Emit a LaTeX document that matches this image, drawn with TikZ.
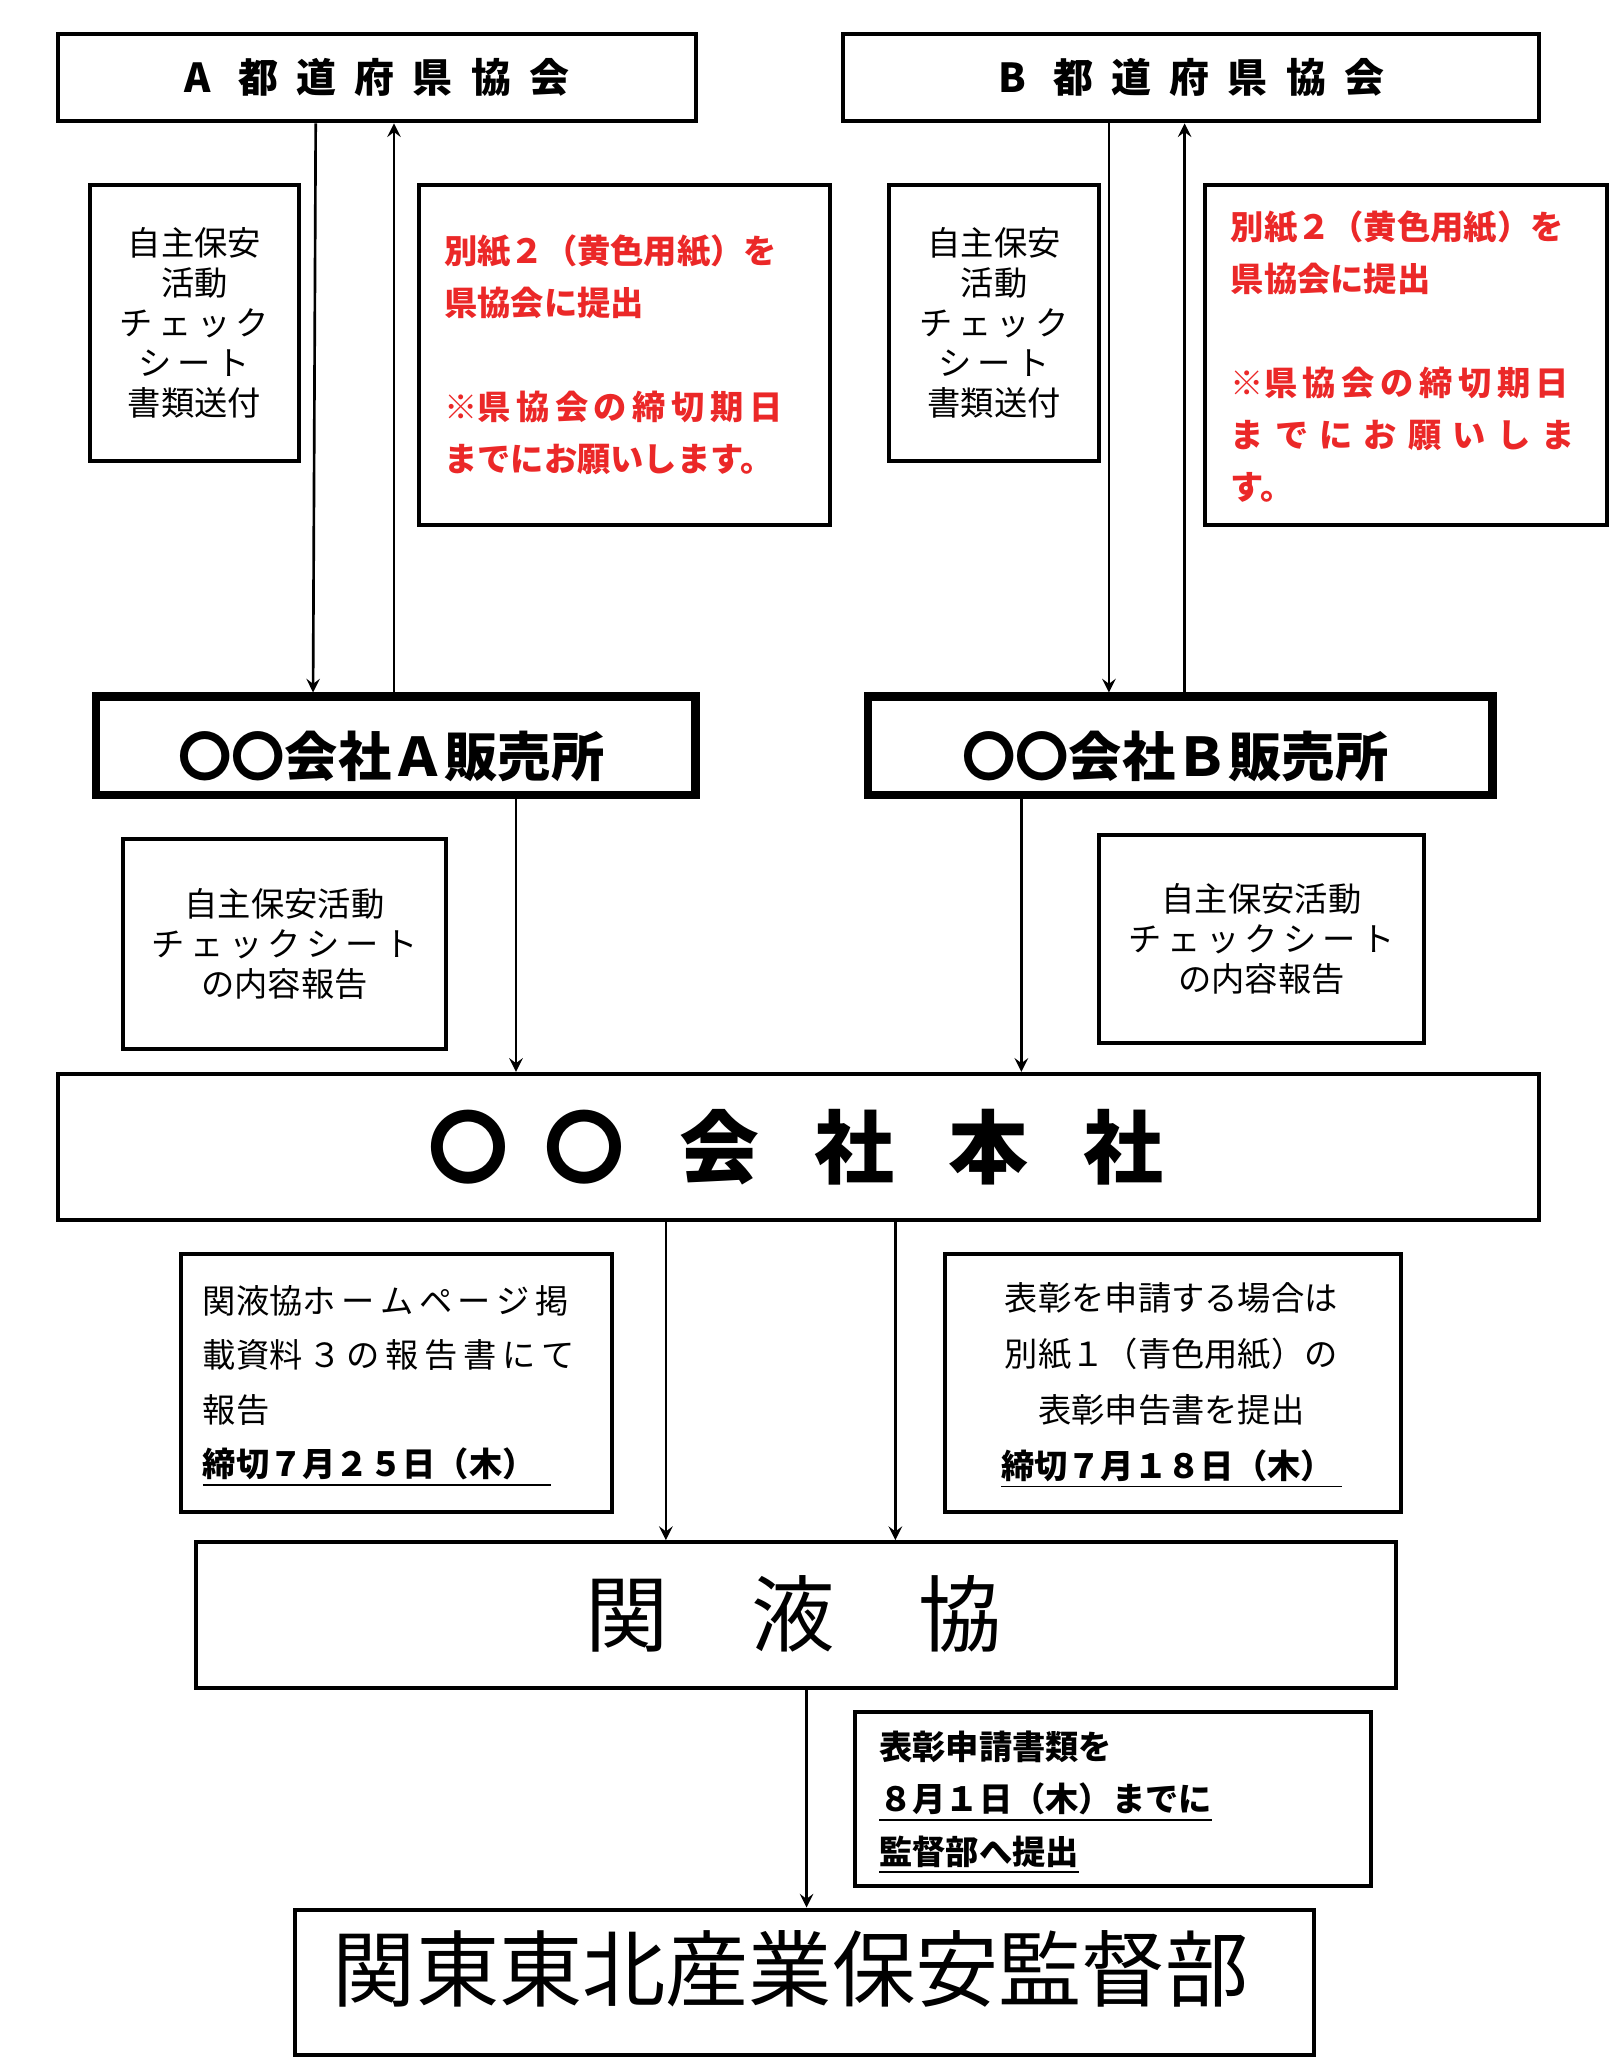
\documentclass[tikz,border=0pt]{standalone}
\usepackage{fontspec}
\setmainfont{Noto Sans CJK JP}
\usetikzlibrary{calc}
\definecolor{kaneki@red}{RGB}{235,40,40}

\tikzset{
  plainbox/.style={draw, line width=1.2pt, inner sep=0pt},
  thickbox/.style={draw, line width=2.6pt, inner sep=0pt},
  flowarrow/.style={-stealth, line width=0.8pt},
}

\begin{document}
\begin{tikzpicture}[x=0.014cm, y=-0.014cm]
\useasboundingbox (0,0) rectangle (1220,1559);

% prefectural associations
\node[plainbox, minimum width=481*0.014cm, minimum height=66*0.014cm, anchor=north west]
  (assocA) at (42,24) {\fontsize{12}{14}\selectfont\bfseries A\ \ \ 都\ \ 道\ \ 府\ \ 県\ \ 協\ \ 会};
\node[plainbox, minimum width=525*0.014cm, minimum height=66*0.014cm, anchor=north west]
  (assocB) at (634,24) {\fontsize{12}{14}\selectfont\bfseries B\ \ \ 都\ \ 道\ \ 府\ \ 県\ \ 協\ \ 会};

% check sheets
\node[plainbox, minimum width=158*0.014cm, minimum height=208*0.014cm, anchor=north west, align=center]
  (checkA) at (66,138) {\fontsize{10}{15.5}\selectfont 自主保安\\活動\\チ\,ェ\,ッ\,ク\\シ\,ー\,ト\\書類送付};
\node[plainbox, minimum width=158*0.014cm, minimum height=208*0.014cm, anchor=north west, align=center]
  (checkB) at (669,138) {\fontsize{10}{15.5}\selectfont 自主保安\\活動\\チ\,ェ\,ッ\,ク\\シ\,ー\,ト\\書類送付};

% submission notes
\node[plainbox, minimum width=310*0.014cm, minimum height=256*0.014cm, anchor=north west]
  (noteA) at (314,138) {};
\node[anchor=north west, align=left, text=kaneki@red, font=\fontsize{10}{15.6}\selectfont\bfseries]
  at (326,168) {別紙２（黄色用紙）を\\県協会に提出\\[15.6pt]※県\,協\,会\,の\,締\,切\,期\,日\\までにお願いします。};
\node[plainbox, minimum width=303*0.014cm, minimum height=256*0.014cm, anchor=north west]
  (noteB) at (907,138) {};
\node[anchor=north west, align=left, text=kaneki@red, font=\fontsize{10}{15.6}\selectfont\bfseries]
  at (919,150) {別紙２（黄色用紙）を\\県協会に提出\\[15.6pt]※県\,協\,会\,の\,締\,切\,期\,日\\ま\,\,で\,\,に\,\,お\,\,願\,\,い\,\,し\,\,ま\\す。};

% sales offices
\node[thickbox, minimum width=452*0.014cm, minimum height=74*0.014cm, anchor=north west]
  (salesA) at (69,522) {};
\node[font=\fontsize{16}{18}\selectfont\bfseries] at (295,570) {〇〇会社Ａ販売所};
\node[thickbox, minimum width=471*0.014cm, minimum height=74*0.014cm, anchor=north west]
  (salesB) at (651,522) {};
\node[font=\fontsize{16}{18}\selectfont\bfseries] at (886,570) {〇〇会社Ｂ販売所};

% content reports
\node[plainbox, minimum width=244*0.014cm, minimum height=158*0.014cm, anchor=north west, align=center]
  (reportA) at (91,631) {\fontsize{10}{17.5}\selectfont 自主保安活動\\チ\,ェ\,ッ\,ク\,シ\,ー\,ト\\の内容報告};
\node[plainbox, minimum width=245*0.014cm, minimum height=157*0.014cm, anchor=north west, align=center]
  (reportB) at (827,628) {\fontsize{10}{17.5}\selectfont 自主保安活動\\チ\,ェ\,ッ\,ク\,シ\,ー\,ト\\の内容報告};

% head office
\node[plainbox, minimum width=1117*0.014cm, minimum height=110*0.014cm, anchor=north west]
  (hq) at (42,808) {};
\node[font=\fontsize{24}{26}\selectfont\bfseries] at (600,865) {〇\ \ 〇\ \ \ 会\ \ \ 社\ \ \ 本\ \ \ 社};

% deadline notes
\node[plainbox, minimum width=325*0.014cm, minimum height=194*0.014cm, anchor=north west]
  (deadA) at (135,944) {};
\node[anchor=north west, align=left, font=\fontsize{10}{16.4}\selectfont] at (144,960)
  {関液協ホ\,ー\,ム\,ペ\,ー\,ジ\,掲\\載資料\,３\,の\,報\,告\,書\,に\,て\\報告\\\bfseries\underline{締切７月２５日（木）\ \ }};
\node[plainbox, minimum width=344*0.014cm, minimum height=194*0.014cm, anchor=north west]
  (deadB) at (711,944) {};
\node[anchor=north, align=center, font=\fontsize{10}{16.8}\selectfont] at (883,958)
  {表彰を申請する場合は\\別紙１（青色用紙）の\\表彰申告書を提出\\\bfseries\underline{締切７月１８日（木）\ }};

% Kanto LPG association
\node[plainbox, minimum width=905*0.014cm, minimum height=110*0.014cm, anchor=north west]
  (kaneki) at (146,1161) {};
\node[font=\fontsize{25}{27}\selectfont] at (598,1217) {関\quad 液\quad 協};

% final submission note
\node[plainbox, minimum width=389*0.014cm, minimum height=131*0.014cm, anchor=north west]
  (submit) at (643,1289) {};
\node[anchor=north west, align=left, font=\fontsize{10}{15.7}\selectfont\bfseries] at (654,1296)
  {表彰申請書類を\\\underline{８月１日（木）までに}\\\underline{監督部へ提出}};

% supervision department
\node[plainbox, minimum width=768*0.014cm, minimum height=110*0.014cm, anchor=north west]
  (dept) at (221,1438) {};
\node[font=\fontsize{25}{27}\selectfont] at (596,1484) {関東東北産業保安監督部};

% connectors
\draw[flowarrow] (assocA.south -| 238,0) -- (salesA.north -| 236,0);
\draw[flowarrow] (salesA.north -| 297,0) -- (assocA.south -| 297,0);
\draw[flowarrow] (assocB.south -| 836,0) -- (salesB.north -| 836,0);
\draw[flowarrow] (salesB.north -| 893,0) -- (assocB.south -| 893,0);
\draw[flowarrow] (salesA.south -| 389,0) -- (hq.north -| 389,0);
\draw[flowarrow] (salesB.south -| 770,0) -- (hq.north -| 770,0);
\draw[flowarrow] (hq.south -| 502,0) -- (kaneki.north -| 502,0);
\draw[flowarrow] (hq.south -| 675,0) -- (kaneki.north -| 675,0);
\draw[flowarrow] (kaneki.south -| 608,0) -- (dept.north -| 608,0);

\end{tikzpicture}
\end{document}
